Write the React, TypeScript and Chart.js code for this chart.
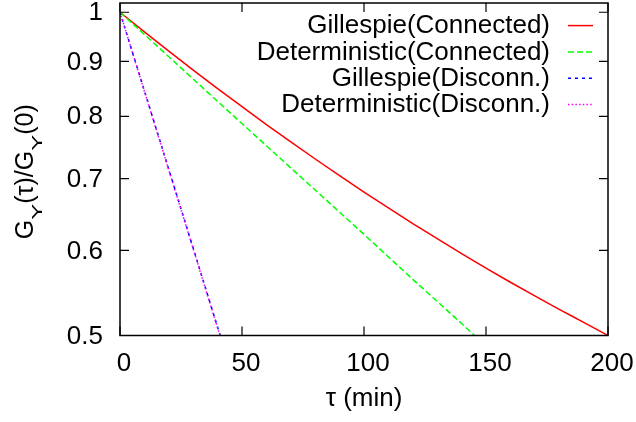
import React, { useEffect, useRef } from 'react';
import { Chart, registerables } from 'chart.js';

Chart.register(...registerables);

// ---- Data ----
const TAU_GILLESPIE_CONN = [0, 10, 20, 30, 40, 50, 60, 70, 80, 90, 100, 110, 120, 130, 140, 150, 160, 170, 180, 190, 200];
const GILLESPIE_CONN = [1.0, 0.9588, 0.92, 0.8834, 0.849, 0.8166, 0.786, 0.7572, 0.73, 0.7043, 0.6801, 0.6573, 0.6357, 0.6153, 0.596, 0.5777, 0.5605, 0.5443, 0.5289, 0.5143, 0.5];

const TAU_DET_CONN = [0, 20, 40, 60, 80, 100, 120, 140, 160];
const DET_CONN = [1.0, 0.909, 0.826, 0.751, 0.683, 0.621, 0.564, 0.513, 0.466];

const TAU_DISC = [0, 10, 20, 30, 40, 50];
const GILLESPIE_DISC = [1.0, 0.845, 0.714, 0.603, 0.509, 0.43];
const DET_DISC = [1.0, 0.844, 0.713, 0.602, 0.508, 0.429];

const X_TICKS = [0, 50, 100, 150, 200];
const Y_TICKS = [0.5, 0.6, 0.7, 0.8, 0.9, 1];
const X_TICK_LABELS = ['0', '50', '100', '150', '200'];
const Y_TICK_LABELS = ['0.5', '0.6', '0.7', '0.8', '0.9', '1'];

const SERIES_LABELS = ['Gillespie(Connected)', 'Deterministic(Connected)', 'Gillespie(Disconn.)', 'Deterministic(Disconn.)'];
const X_TITLE = 'τ (min)';
const Y_TITLE_PARTS: { t: string; sub: boolean }[] = [
  { t: 'G', sub: false },
  { t: 'Y', sub: true },
  { t: '(τ)/G', sub: false },
  { t: 'Y', sub: true },
  { t: '(0)', sub: false },
];

const FONT_FAMILY = "'Liberation Sans', Arial, Helvetica, sans-serif";
const FONT = `26px ${FONT_FAMILY}`;

const toPoints = (xs: number[], ys: number[]) => xs.map((x, i) => ({ x, y: ys[i] }));

const framePlugin = {
  id: 'gnuplotFrame',
  afterDraw(chart: any) {
    const ctx: CanvasRenderingContext2D = chart.ctx;
    const xs = chart.scales.x;
    const ys = chart.scales.y;
    const left = xs.getPixelForValue(0);
    const right = xs.getPixelForValue(200);
    const top = ys.top;
    const bottom = ys.bottom;
    ctx.save();
    ctx.setLineDash([]);
    ctx.strokeStyle = '#000000';
    ctx.fillStyle = '#000000';
    ctx.globalAlpha = 1;

    // ticks (inward, mirrored)
    const tl = 9;
    ctx.lineWidth = 1.2;
    ctx.beginPath();
    Y_TICKS.forEach((v) => {
      const p = ys.getPixelForValue(v);
      ctx.moveTo(left, p);
      ctx.lineTo(left + tl, p);
      ctx.moveTo(right, p);
      ctx.lineTo(right - tl, p);
    });
    X_TICKS.forEach((v) => {
      const p = xs.getPixelForValue(v);
      ctx.moveTo(p, bottom);
      ctx.lineTo(p, bottom - tl);
      ctx.moveTo(p, top);
      ctx.lineTo(p, top + tl);
    });
    ctx.stroke();

    // frame
    ctx.lineWidth = 1.5;
    ctx.beginPath();
    ctx.rect(left, top, right - left, bottom - top);
    ctx.stroke();

    // tick labels
    ctx.font = FONT;
    ctx.textAlign = 'right';
    ctx.textBaseline = 'middle';
    Y_TICKS.forEach((v, i) => {
      ctx.fillText(Y_TICK_LABELS[i], left - 17, ys.getPixelForValue(v) + 1);
    });
    ctx.textAlign = 'center';
    X_TICKS.forEach((v, i) => {
      ctx.fillText(X_TICK_LABELS[i], xs.getPixelForValue(v) + 4, bottom + 28);
    });

    // x title
    ctx.fillText(X_TITLE, (left + right) / 2, bottom + 63);

    // y title with subscripts
    const mainFont = `25px ${FONT_FAMILY}`;
    const subFont = `15px ${FONT_FAMILY}`;
    const subStretch = 1.6;
    const widths = Y_TITLE_PARTS.map((p) => {
      ctx.font = p.sub ? subFont : mainFont;
      return ctx.measureText(p.t).width * (p.sub ? subStretch : 1);
    });
    const total = widths.reduce((a, b) => a + b, 0);
    ctx.save();
    ctx.translate(33.3, (top + bottom) / 2 + 2.5);
    ctx.rotate(-Math.PI / 2);
    ctx.textBaseline = 'alphabetic';
    ctx.textAlign = 'left';
    let x = -total / 2;
    Y_TITLE_PARTS.forEach((p, i) => {
      if (p.sub) {
        ctx.save();
        ctx.font = subFont;
        ctx.translate(x, 8.4);
        ctx.scale(subStretch, 1);
        ctx.fillText(p.t, 0, 0);
        ctx.restore();
      } else {
        ctx.font = mainFont;
        ctx.fillText(p.t, x, 0);
      }
      x += widths[i];
    });
    ctx.restore();

    // legend (gnuplot style: right-aligned text, sample on the right)
    ctx.font = FONT;
    ctx.textAlign = 'right';
    ctx.textBaseline = 'middle';
    chart.data.datasets.forEach((ds: any, i: number) => {
      const y = 25.6 + i * 26.3;
      ctx.fillStyle = '#000000';
      ctx.fillText(ds.label, 550, y + 0.5);
      ctx.save();
      ctx.beginPath();
      ctx.strokeStyle = ds.borderColor;
      ctx.lineWidth = ds.borderWidth;
      ctx.setLineDash(ds.borderDash || []);
      ctx.moveTo(568, y);
      ctx.lineTo(593, y);
      ctx.stroke();
      ctx.restore();
    });
    ctx.restore();
  },
};

export default function App() {
  const canvasRef = useRef<HTMLCanvasElement | null>(null);

  useEffect(() => {
    if (!canvasRef.current) return;
    const chart = new Chart(canvasRef.current, {
      type: 'line',
      data: {
        datasets: [
          {
            label: SERIES_LABELS[0],
            data: toPoints(TAU_GILLESPIE_CONN, GILLESPIE_CONN),
            borderColor: '#ff0000',
            borderWidth: 1.5,
            borderDash: [],
            pointRadius: 0,
            fill: false,
            cubicInterpolationMode: 'monotone',
            order: 3,
          },
          {
            label: SERIES_LABELS[1],
            data: toPoints(TAU_DET_CONN, DET_CONN),
            borderColor: '#00ff00',
            borderWidth: 1.5,
            borderDash: [6, 3],
            pointRadius: 0,
            fill: false,
            tension: 0,
            order: 2,
          },
          {
            label: SERIES_LABELS[2],
            data: toPoints(TAU_DISC, GILLESPIE_DISC),
            borderColor: '#0000ff',
            borderWidth: 1.5,
            borderDash: [3, 4],
            pointRadius: 0,
            fill: false,
            tension: 0,
            order: 1,
          },
          {
            label: SERIES_LABELS[3],
            data: toPoints(TAU_DISC, DET_DISC),
            borderColor: '#ff00ff',
            borderWidth: 1.5,
            borderDash: [1.5, 2.2],
            pointRadius: 0,
            fill: false,
            tension: 0,
            order: 0,
          },
        ],
      },
      options: {
        animation: false,
        responsive: false,
        devicePixelRatio: 1,
        layout: { padding: { top: 3, right: 28, left: 120, bottom: 86.5 } },
        plugins: {
          legend: { display: false },
          tooltip: { enabled: false },
        },
        scales: {
          x: {
            type: 'linear',
            display: false,
            min: 0,
            max: 200,
          },
          y: {
            type: 'logarithmic',
            display: false,
            min: 0.5,
            max: 1.02,
          },
        },
      },
      plugins: [framePlugin],
    } as any);
    return () => chart.destroy();
  }, []);

  return (
    <div style={{ position: 'absolute', left: 0, top: 0, width: 636, height: 422, background: '#fff' }}>
      <canvas ref={canvasRef} width={636} height={422} />
    </div>
  );
}
